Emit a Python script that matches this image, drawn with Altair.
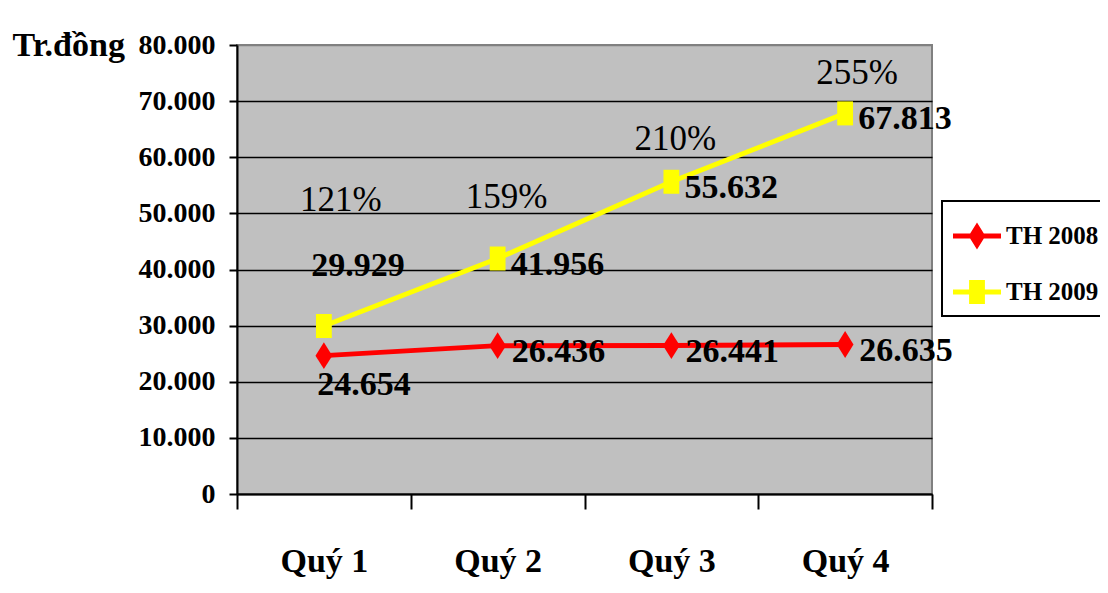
import altair as alt
import pandas as pd

# ---- data ----
quarters = ["Quý 1", "Quý 2", "Quý 3", "Quý 4"]
series_names = ["TH 2008", "TH 2009"]
th2008 = [24654, 26436, 26441, 26635]
th2009 = [29929, 41956, 55632, 67813]
growth_pct = [121, 159, 210, 255]
y_ticks = [0, 10000, 20000, 30000, 40000, 50000, 60000, 70000, 80000]

rows = []
for q, a, b, p in zip(quarters, th2008, th2009, growth_pct):
    rows.append({"quarter": q, "series": series_names[0], "value": a, "pct": p})
    rows.append({"quarter": q, "series": series_names[1], "value": b, "pct": p})
df = pd.DataFrame(rows)

# ---- styles ----
FONT = "Liberation Serif, Times New Roman, serif"
colors = ["#FF0000", "#FFFF00"]
diamond_path = "M0,-0.56L0.35,0L0,0.56L-0.35,0Z"
square_path = "M-0.33,-0.5L0.33,-0.5L0.33,0.5L-0.33,0.5Z"
leg_line = "M-1,-0.1L1,-0.1L1,0.1L-1,0.1Z"

x_enc = alt.X(
    "quarter:N",
    sort=quarters,
    scale=alt.Scale(type="band", paddingInner=0, paddingOuter=0),
    axis=alt.Axis(
        title=None, tickBand="extent", grid=False,
        domainColor="black", domainWidth=2,
        tickColor="black", tickWidth=2, tickSize=15,
        labelFont=FONT, labelFontSize=34, labelFontWeight="bold", labelColor="black",
        labelBaseline="alphabetic", labelPadding=62, labelAngle=0,
    ),
)
y_enc = alt.Y(
    "value:Q",
    scale=alt.Scale(domain=[0, 80000], nice=False, zero=True),
    axis=alt.Axis(
        values=y_ticks,
        labelExpr="replace(format(datum.value, ','), ',', '.')",
        grid=True,
        gridColor={"condition": {"test": "datum.value === 80000", "value": "#808080"}, "value": "black"},
        gridWidth=1.5,
        domainColor="black", domainWidth=2,
        tickColor="black", tickWidth=2, tickSize=8,
        labelFont=FONT, labelFontSize=28, labelFontWeight="bold", labelColor="black",
        labelPadding=14,
        title="Tr.đồng", titleAngle=0, titleAlign="left", titleBaseline="alphabetic",
        titleX=-225, titleY=10, titleFont=FONT, titleFontSize=34,
        titleFontWeight="bold", titleColor="black",
    ),
)

legend_props = dict(
    title=None, orient="none", legendX=705, legendY=156,
    padding=11, strokeColor="black", fillColor="white",
    labelFont=FONT, labelFontSize=25, labelFontWeight="bold", labelColor="black",
    labelOffset=5, rowPadding=18, symbolSize=2304,
    symbolOpacity=1, symbolStrokeWidth=0,
)

base = alt.Chart(df)

lines = base.mark_line(strokeWidth=5).encode(
    x=x_enc,
    y=y_enc,
    color=alt.Color("series:N", scale=alt.Scale(domain=series_names, range=colors), legend=None),
)

points = base.mark_point(filled=True, size=2304, opacity=1, strokeWidth=0).encode(
    x=x_enc,
    y=y_enc,
    shape=alt.Shape("series:N", scale=alt.Scale(domain=series_names, range=[diamond_path, square_path]), legend=None),
    fill=alt.Fill("series:N", scale=alt.Scale(domain=series_names, range=colors), legend=None),
)

# legend-only layer (no rows drawn): line + marker symbols
legend_layer = base.transform_filter("false").mark_point(
    filled=True, size=2304, opacity=1, strokeWidth=0
).encode(
    x=x_enc,
    y=y_enc,
    shape=alt.Shape("series:N",
                    scale=alt.Scale(domain=series_names,
                                    range=[leg_line + diamond_path, leg_line + square_path]),
                    legend=alt.Legend(**legend_props)),
    fill=alt.Fill("series:N", scale=alt.Scale(domain=series_names, range=colors),
                  legend=alt.Legend(**legend_props)),
)

# value labels: (series, quarters, align, dx, dy)
label_specs = [
    ("TH 2008", ["Quý 1"], "center", 40, 29),
    ("TH 2008", ["Quý 2", "Quý 3", "Quý 4"], "left", 14, 6),
    ("TH 2009", ["Quý 1"], "center", 34, -60),
    ("TH 2009", ["Quý 2", "Quý 3", "Quý 4"], "left", 13, 6),
]
layers = [lines, points]
for s, qs, align, dx, dy in label_specs:
    layers.append(
        base.transform_filter(alt.FieldEqualPredicate(field="series", equal=s))
        .transform_filter(alt.FieldOneOfPredicate(field="quarter", oneOf=qs))
        .transform_calculate(lab="replace(format(datum.value, ','), ',', '.')")
        .mark_text(font=FONT, fontSize=34, fontWeight="bold", color="black",
                   align=align, baseline="middle", dx=dx, dy=dy)
        .encode(x=x_enc, y=y_enc, text="lab:N")
    )

# growth percentages, placed above the TH 2009 points
pct_offsets = [(17, -126), (9, -62), (4, -43), (12, -40)]
for q, (dx, dy) in zip(quarters, pct_offsets):
    layers.append(
        base.transform_filter(alt.FieldEqualPredicate(field="series", equal="TH 2009"))
        .transform_filter(alt.FieldEqualPredicate(field="quarter", equal=q))
        .transform_calculate(plab="datum.pct + '%'")
        .mark_text(font=FONT, fontSize=35, fontWeight="normal", color="black",
                   align="center", baseline="middle", dx=dx, dy=dy)
        .encode(x=x_enc, y=y_enc, text="plab:N")
    )

layers.append(legend_layer)

chart = (
    alt.layer(*layers)
    .resolve_scale(shape="independent", fill="independent")
    .properties(
        width=695, height=449,
        autosize=alt.AutoSizeParams(type="none"),
        padding={"left": 229, "top": 37, "right": 168, "bottom": 88},
        background="white",
    )
    .configure_view(fill="#C0C0C0", stroke="#808080", strokeWidth=2)
    .configure_legend(strokeWidth=2)
)

chart.save("out.html", embed_options={"renderer": "svg", "actions": False})
